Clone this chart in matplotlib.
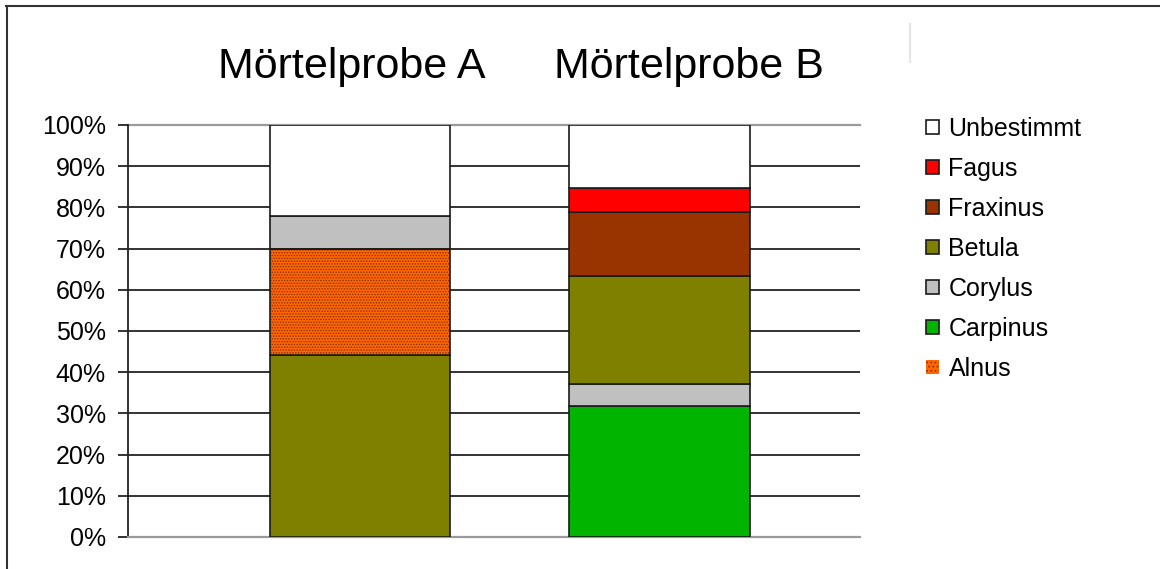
import matplotlib
matplotlib.use("Agg")
import matplotlib.pyplot as plt
from matplotlib.patches import Patch
from matplotlib.lines import Line2D

plt.rcParams['font.family'] = ['Liberation Sans', 'DejaVu Sans']

# ---- data ----
samples = ["Mörtelprobe A", "Mörtelprobe B"]
# stacking order per sample (bottom -> top) and values in %
stack_A = ["Betula", "Alnus", "Corylus", "Unbestimmt"]
values_A = [44.2, 25.7, 8.0, 22.1]
stack_B = ["Carpinus", "Corylus", "Betula", "Fraxinus", "Fagus", "Unbestimmt"]
values_B = [31.8, 5.3, 26.2, 15.6, 5.8, 15.3]

legend_order = ["Unbestimmt", "Fagus", "Fraxinus", "Betula", "Corylus", "Carpinus", "Alnus"]
colors = {
    "Unbestimmt": "#FFFFFF",
    "Fagus": "#FF0000",
    "Fraxinus": "#993300",
    "Betula": "#808000",
    "Corylus": "#C0C0C0",
    "Carpinus": "#00B400",
    "Alnus": "#FF6600",
}
hatched = {"Alnus": "......"}
hatch_color = "#8A3000"
yticks = [0, 10, 20, 30, 40, 50, 60, 70, 80, 90, 100]
ytick_labels = [f"{v}%" for v in yticks]

# ---- figure ----
W, H = 1160, 569
plt.rcParams['hatch.linewidth'] = 0.7
fig = plt.figure(figsize=(W / 100, H / 100), dpi=100)
ax = fig.add_axes([128 / W, 32 / H, 732 / W, 412 / H])

width = 0.605
positions = [0, 1]
for pos, stack, vals in zip(positions, [stack_A, stack_B], [values_A, values_B]):
    bottom = 0
    for name, v in zip(stack, vals):
        if name in hatched:
            ax.bar(pos, v, width, bottom=bottom, color=colors[name],
                   edgecolor=hatch_color, linewidth=0, hatch=hatched[name], zorder=3)
            ax.bar(pos, v, width, bottom=bottom, fill=False,
                   edgecolor="#1a1a1a", linewidth=1.2, zorder=4)
        else:
            ax.bar(pos, v, width, bottom=bottom, color=colors[name],
                   edgecolor="#1a1a1a", linewidth=1.2, zorder=3)
        bottom += v

ax.set_xlim(-0.776, 1.672)
ax.set_ylim(0, 100)
ax.set_yticks(yticks)
ax.set_yticklabels(ytick_labels, fontsize=18)
ax.set_xticks([])
for v in yticks[1:-1]:
    ax.axhline(v, color="#222222", linewidth=1.3, zorder=1)
ax.axhline(100, color="#9a9a9a", linewidth=1.6, zorder=1, clip_on=False)

for s in ["top", "right"]:
    ax.spines[s].set_visible(False)
ax.spines["bottom"].set_color("#9a9a9a")
ax.spines["bottom"].set_linewidth(1.6)
ax.spines["left"].set_color("#222222")
ax.spines["left"].set_linewidth(1.3)
ax.tick_params(axis="y", direction="out", length=7, width=1.3, color="#222222", pad=9)

# titles
title_x = [352, 689]
for name, x in zip(samples, title_x):
    fig.text(x / W, 1 - 78 / H, name, fontsize=31, ha="center", va="baseline")

# legend
handles = []
for name in legend_order:
    if name in hatched:
        handles.append(Patch(facecolor=colors[name], edgecolor=hatch_color,
                             hatch="....", linewidth=0))
    else:
        handles.append(Patch(facecolor=colors[name], edgecolor="#1a1a1a", linewidth=1.2))
leg = fig.legend(handles, legend_order, loc="upper left",
                 bbox_to_anchor=(916 / W, 1 - 107 / H), frameon=False,
                 fontsize=18, handlelength=0.5, handleheight=0.5,
                 handletextpad=0.4, labelspacing=0.64, borderaxespad=0)

# frame lines (top and left border) and faint separator
fig.add_artist(Line2D([6 / W, 1.0], [1 - 5.5 / H, 1 - 5.5 / H], color="#333333",
                      linewidth=1.5, transform=fig.transFigure))
fig.add_artist(Line2D([6.5 / W, 6.5 / W], [0, 1 - 5.5 / H], color="#333333",
                      linewidth=1.5, transform=fig.transFigure))
fig.add_artist(Line2D([910 / W, 910 / W], [1 - 24 / H, 1 - 62 / H], color="#e6e6e6",
                      linewidth=1.5, transform=fig.transFigure))

fig.savefig("out.png", dpi=100)
